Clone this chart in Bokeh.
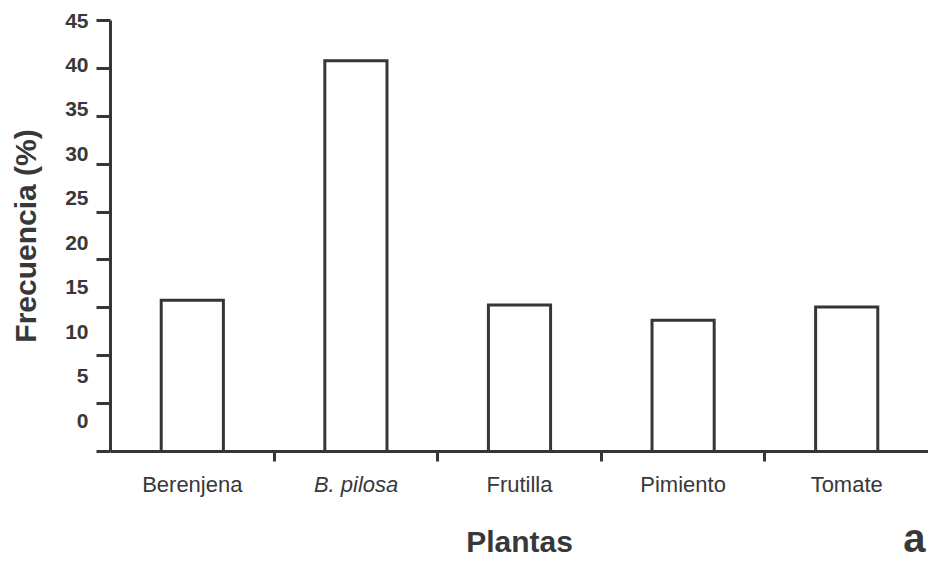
from bokeh.plotting import figure
from bokeh.models import Range1d, LinearAxis, FixedTicker, CustomJSTickFormatter, Title
from bokeh.embed import file_html
from bokeh.resources import INLINE

# ---- data -------------------------------------------------------------
categories = ["Berenjena", "B. pilosa", "Frutilla", "Pimiento", "Tomate"]
italic_categories = ["B. pilosa"]
frequencies = [15.8, 40.8, 15.3, 13.7, 15.1]
y_ticks = [0, 5, 10, 15, 20, 25, 30, 35, 40, 45]
x_title = "Plantas"
y_title = "Frecuencia (%)"
panel_letter = "a"

# ---- style ------------------------------------------------------------
FONT = "Liberation Sans"
INK = "#363636"
TEXT = "#383838"

W, H = 928, 561
LEFT, TOP, BOTTOM, RIGHT = 110, 20, 110, 0
FRAME_W = W - LEFT - RIGHT
X0, X1 = 0, 5
Y0, Y1 = 0, 45

xs = [i + 0.5 for i in range(len(categories))]
boundaries = [i for i in range(1, len(categories))]

p = figure(width=W, height=H, output_backend="svg", toolbar_location=None,
           x_range=Range1d(X0, X1), y_range=Range1d(Y0, Y1),
           min_border_left=LEFT, min_border_right=RIGHT, min_border_top=TOP,
           min_border_bottom=BOTTOM)
p.outline_line_color = None
p.grid.visible = False
p.background_fill_color = "white"
p.border_fill_color = "white"

p.vbar(x=xs, top=frequencies, bottom=0, width=0.38, fill_color="white",
       line_color=INK, line_width=3, line_join="miter")

# y axis: ticks only
yax = p.yaxis[0]
yax.ticker = FixedTicker(ticks=y_ticks, minor_ticks=[])
yax.formatter = CustomJSTickFormatter(code="return '';")
yax.axis_line_color = INK
yax.axis_line_width = 3
yax.major_tick_line_color = INK
yax.major_tick_line_width = 3
yax.major_tick_out = 14
yax.major_tick_in = 0
yax.minor_tick_out = 0
yax.minor_tick_in = 0
yax.major_label_standoff = 0

# y axis: labels (as printed in the original, slightly offset from the ticks)
p.extra_y_ranges = {"labels": Range1d(-3.4875, 45)}
lab = LinearAxis(y_range_name="labels", ticker=FixedTicker(ticks=y_ticks, minor_ticks=[]))
lab.axis_line_color = None
lab.major_tick_line_color = None
lab.minor_tick_line_color = None
lab.major_tick_out = 0
lab.major_tick_in = 0
lab.minor_tick_out = 0
lab.minor_tick_in = 0
lab.major_label_standoff = 8
lab.major_label_text_font = FONT
lab.major_label_text_font_style = "bold"
lab.major_label_text_font_size = "21px"
lab.major_label_text_color = TEXT
lab.axis_label = y_title
lab.axis_label_text_font = FONT
lab.axis_label_text_font_style = "bold"
lab.axis_label_text_font_size = "30px"
lab.axis_label_text_color = TEXT
lab.axis_label_standoff = 20
p.add_layout(lab, "left")

# x axis
xax = p.xaxis[0]
xax.ticker = FixedTicker(ticks=xs, minor_ticks=boundaries)
plain_names = ["" if c in italic_categories else c for c in categories]
xax.formatter = CustomJSTickFormatter(args=dict(names=plain_names),
                                      code="return names[Math.round(tick - 0.5)];")
xax.axis_line_color = INK
xax.axis_line_width = 3
xax.major_tick_line_color = None
xax.major_tick_out = 0
xax.major_tick_in = 0
xax.minor_tick_line_color = INK
xax.minor_tick_line_width = 3
xax.minor_tick_out = 10
xax.minor_tick_in = 0
xax.major_label_standoff = 10
xax.major_label_text_font = FONT
xax.major_label_text_font_size = "22px"
xax.major_label_text_color = TEXT
xax.axis_label = x_title
xax.axis_label_text_font = FONT
xax.axis_label_text_font_style = "bold"
xax.axis_label_text_font_size = "30px"
xax.axis_label_text_color = TEXT
xax.axis_label_standoff = 25

def sx(v):
    return (v - X0) / (X1 - X0) * FRAME_W

# italic category label: a zero-height side-panel title right under the frame
# (padding tuple order here is left, right, top, bottom)
italic_titles = []
for c, x in zip(categories, xs):
    if c in italic_categories:
        italic_titles.append(Title(text=c, align="left", offset=sx(x) - 42,
                                   vertical_align="middle", standoff=-94,
                                   padding=(0, 0, 66, 0),
                                   text_font=FONT, text_font_size="22px",
                                   text_font_style="italic", text_color=TEXT))

# panel letter: a zero-height side-panel title under the axis
letter = Title(text=panel_letter, align="right", offset=3, vertical_align="middle",
               standoff=-96, padding=(0, 0, 0, 46), text_font=FONT,
               text_font_size="40px", text_font_style="bold", text_color=TEXT)

p.below = italic_titles + [xax, letter]

open("out.html", "w").write(file_html(p, INLINE))
